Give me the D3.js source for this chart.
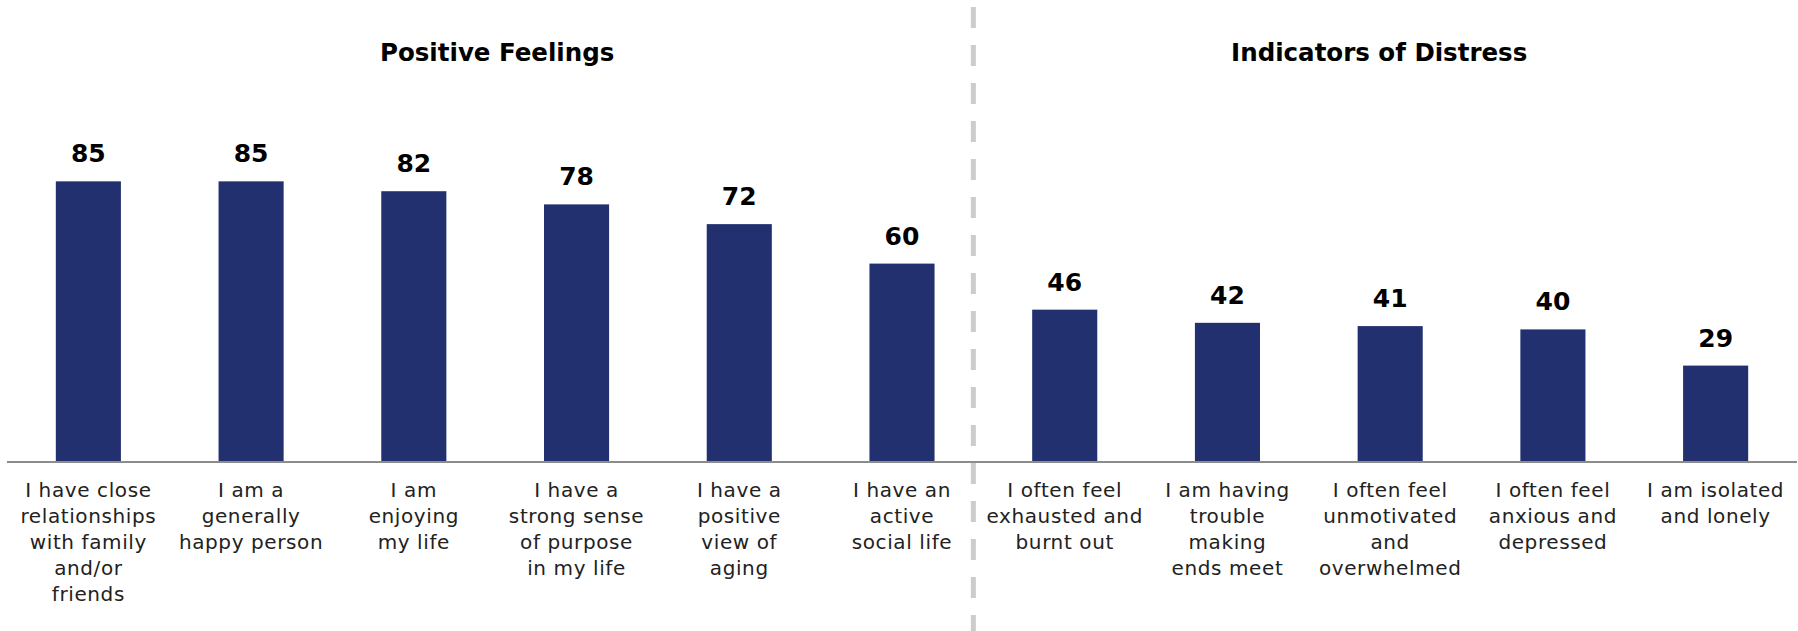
<!DOCTYPE html>
<html>
<head>
<meta charset="utf-8">
<script src="https://cdn.jsdelivr.net/npm/d3@7"></script>
<style>
  body { margin: 0; background: #fff; }
  svg text { font-family: "DejaVu Sans", sans-serif; }
</style>
</head>
<body>
<div id="chart"></div>
<script>

// Chart data
var categories = [
  "close relationships", "happy person", "enjoying life", "sense of purpose",
  "positive view of aging", "active social life",
  "exhausted", "ends meet", "unmotivated", "anxious", "isolated"
];

var values = [85, 85, 82, 78, 72, 60, 46, 42, 41, 40, 29];

var labelLines = [
  ["I have close", "relationships", "with family", "and/or", "friends"],
  ["I am a", "generally", "happy person"],
  ["I am", "enjoying", "my life"],
  ["I have a", "strong sense", "of purpose", "in my life"],
  ["I have a", "positive", "view of", "aging"],
  ["I have an", "active", "social life"],
  ["I often feel", "exhausted and", "burnt out"],
  ["I am having", "trouble", "making", "ends meet"],
  ["I often feel", "unmotivated", "and", "overwhelmed"],
  ["I often feel", "anxious and", "depressed"],
  ["I am isolated", "and lonely"]
];

var groupNames = ["Positive Feelings", "Indicators of Distress"];
var groupSizes = [6, 5];

//Width and height of the picture
var width = 1798;
var height = 631;
var baseline = 461;

var barColor = "#223070";

var svg = d3.select("#chart")
  .append("svg")
  .attr("width", width)
  .attr("height", height);

// band scale for the statements
var x = d3.scaleBand()
  .domain(categories)
  .range([7, 1797])
  .paddingInner(0.6)
  .paddingOuter(0.3);

// linear scale for the percentages
var y = d3.scaleLinear()
  .domain([0, 100])
  .range([baseline, 132]);

// bars
svg.selectAll("rect.bar")
  .data(values)
  .enter()
  .append("rect")
  .attr("class", "bar")
  .attr("x", function(d, i) { return x(categories[i]); })
  .attr("y", function(d) { return y(d); })
  .attr("width", x.bandwidth())
  .attr("height", function(d) { return y(0) - y(d); })
  .style("fill", barColor);

// value labels on top of the bars
svg.selectAll("text.value")
  .data(values)
  .enter()
  .append("text")
  .attr("class", "value")
  .attr("x", function(d, i) { return x(categories[i]) + x.bandwidth() / 2; })
  .attr("y", function(d) { return y(d) - 19; })
  .attr("text-anchor", "middle")
  .style("font-size", "25px")
  .style("font-weight", "bold")
  .style("fill", "#000")
  .text(function(d) { return d; });

// x axis line (no ticks)
svg.append("line")
  .attr("x1", x.range()[0])
  .attr("x2", x.range()[1])
  .attr("y1", baseline + 1)
  .attr("y2", baseline + 1)
  .style("stroke", "#8c8c8c")
  .style("stroke-width", 2);

// multi-line category labels
var labels = svg.selectAll("text.cat")
  .data(labelLines)
  .enter()
  .append("text")
  .attr("class", "cat")
  .attr("text-anchor", "middle")
  .style("font-size", "20px")
  .style("letter-spacing", "0.6px")
  .style("fill", "#222");

labels.each(function(lines, i) {
  var cx = x(categories[i]) + x.bandwidth() / 2;
  d3.select(this).selectAll("tspan")
    .data(lines)
    .enter()
    .append("tspan")
    .attr("x", cx)
    .attr("y", function(d, j) { return baseline + 36 + j * 26; })
    .text(function(d) { return d; });
});

// dashed divider between the two groups
var lastLeft = categories[groupSizes[0] - 1];
var firstRight = categories[groupSizes[0]];
var divX = (x(lastLeft) + x.bandwidth() + x(firstRight)) / 2 - 10;

svg.append("line")
  .attr("x1", divX)
  .attr("x2", divX)
  .attr("y1", 7)
  .attr("y2", height)
  .style("stroke", "#cccccc")
  .style("stroke-width", 5)
  .style("stroke-dasharray", "21 17");

// group headings, centred over their bars
var start = 0;
groupNames.forEach(function(name, g) {
  var first = categories[start];
  var last = categories[start + groupSizes[g] - 1];
  var cx = (x(first) + x(last) + x.bandwidth()) / 2;
  start += groupSizes[g];

  svg.append("text")
    .attr("x", g === 0 ? cx + 2 : cx - 11)
    .attr("y", 61)
    .attr("text-anchor", "middle")
    .style("font-size", "24.5px")
    .style("font-weight", "bold")
    .style("fill", "#000")
    .text(name);
});

</script>
</body>
</html>
